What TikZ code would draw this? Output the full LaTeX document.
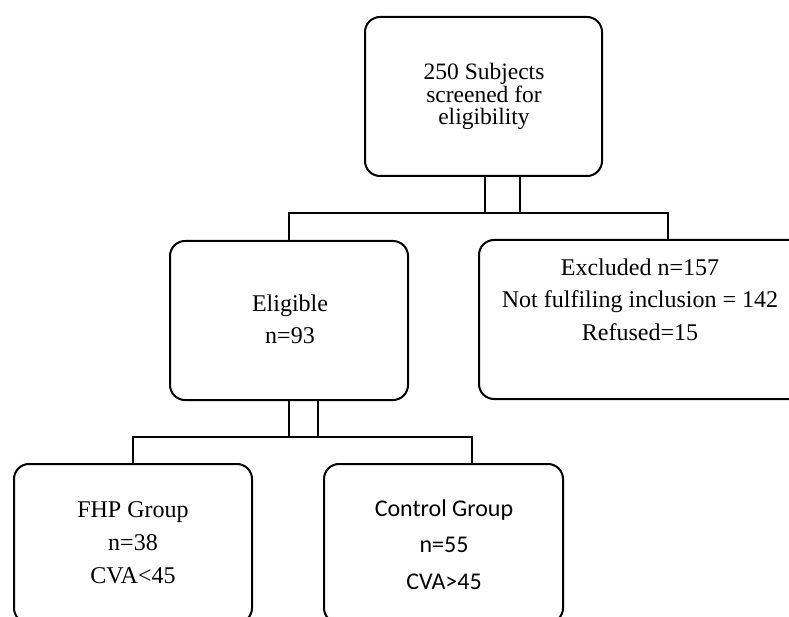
\documentclass[tikz,border=0pt]{standalone}
\usepackage{fontspec}
\setmainfont{Liberation Serif}
\newfontfamily\calfont{Carlito}
\begin{document}
\begin{tikzpicture}[x=1pt,y=-1pt]
\tikzset{
  box/.style={draw, line width=2pt, rounded corners=15pt, inner sep=0pt, minimum height=159pt},
  line/.style={draw, line width=2pt},
  sertext/.style={align=center, inner sep=0pt, anchor=base, font={\fontsize{24}{33}\selectfont}},
  caltext/.style={align=center, inner sep=0pt, anchor=base, font={\calfont\fontsize{24}{36.5}\selectfont}}
}
\useasboundingbox (0,0) rectangle (789,617);
\begin{scope}
\clip (0,0) rectangle (789,617);
% boxes
\node[box, minimum width=237pt] (top) at (483.5,96.5) {};
\node[box, minimum width=238pt] (elig) at (289,320.5) {};
\node[box, minimum width=331pt] (excl) at (644.5,319.5) {};
\node[box, minimum width=238pt] (fhp) at (133,543.5) {};
\node[box, minimum width=239pt] (ctrl) at (443.5,543.5) {};
% texts (base anchor = baseline of last line)
\node[sertext, font={\fontsize{23.5}{22.5}\selectfont}] (toptext) at (484,125) {250 Subjects\\screened for\\eligibility};
\node[sertext, font={\fontsize{24}{32}\selectfont}] (eligtext) at (290,343) {Eligible\\n=93};
\node[sertext] (excltext) at (640,341) {Excluded n=157\\Not fulfiling inclusion = 142\\Refused=15};
\node[sertext] (fhptext) at (133,583) {FHP Group\\n=38\\CVA<45};
\node[caltext] (ctrltext) at (444,589) {Control Group\\n=55\\CVA>45};
% connectors
\coordinate (j1) at (485,213);
\coordinate (j2) at (520,213);
\coordinate (h1) at (668,213);
\draw[line] (top.south -| j1) -- (j1) -- (j2) -- (top.south -| j2);
\draw[line] (elig.north) |- (h1) -- (h1 |- excl.north);
\coordinate (j3) at (289,437);
\coordinate (j4) at (318,437);
\coordinate (h2) at (472,437);
\draw[line] (elig.south -| j3) -- (j3) -- (j4) -- (elig.south -| j4);
\draw[line] (fhp.north) |- (h2) -- (h2 |- ctrl.north);
\end{scope}
\end{tikzpicture}
\end{document}
